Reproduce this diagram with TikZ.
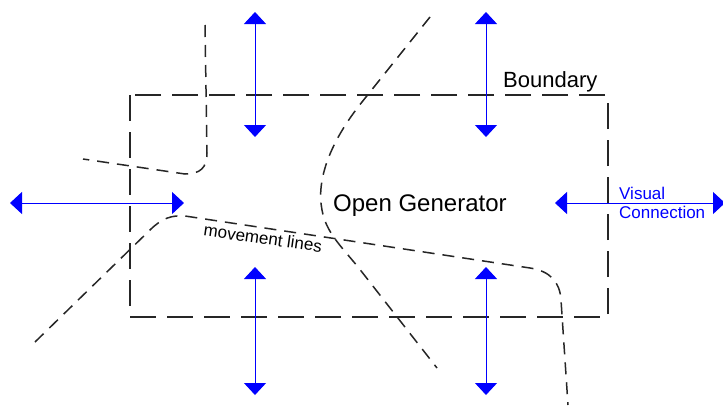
\documentclass[tikz,border=0pt]{standalone}
\usepackage{fontspec}
\setmainfont{Liberation Sans}
\usetikzlibrary{arrows.meta}
\definecolor{vblue}{RGB}{0,0,255}
\tikzset{
  boundaryline/.style={line width=2.2pt, dash pattern=on 26pt off 11pt, black!85},
  moveline/.style={line width=1.5pt, dash pattern=on 12pt off 8pt, black!85, line cap=butt},
  twoway/.style={vblue, line width=0.9pt,
    {Triangle[width=22pt,length=12pt]}-{Triangle[width=22pt,length=12pt]}},
  bigtext/.style={font=\fontsize{24}{28}\selectfont, inner sep=0pt},
  midtext/.style={font=\fontsize{22}{26}\selectfont, inner sep=0pt},
  smalltext/.style={font=\fontsize{17}{19}\selectfont, inner sep=0pt},
}
\begin{document}
\begin{tikzpicture}[x=1pt,y=-1pt]
\useasboundingbox[fill=white] (0,0) rectangle (723,405);

% boundary of the open generator
\draw[boundaryline] (130,95) rectangle (608,317);

% movement lines
\draw[moveline] (205,25) -- (207,153)
  .. controls (207,168) and (200,174) .. (185,174) -- (83,159);
\draw[moveline] (430,17) -- (362,102)
  .. controls (330,142) and (316,180) .. (322,210)
  .. controls (326,232) and (340,245) .. (358,267) -- (437,368);
\draw[moveline] (35,342) -- (150,230)
  .. controls (162,218) and (172,215) .. (185,216) -- (530,268)
  .. controls (550,271) and (560,282) .. (561,300) -- (568,405);

% labels
\node[bigtext, anchor=base west] (gen) at (333,211) {Open Generator};
\node[midtext, anchor=base west] (bnd) at (503,87) {Boundary};
\node[smalltext, rotate=-8] (mov) at (263,238) {movement lines};
\node[smalltext, text=vblue, anchor=base west, align=left] (vis) at (619,218) {Visual\\Connection};

% visual connection arrows
\coordinate (t1a) at (255,12);  \coordinate (t1b) at (255,137);
\coordinate (t2a) at (486,12);  \coordinate (t2b) at (486,137);
\coordinate (b1a) at (255,267); \coordinate (b1b) at (255,395);
\coordinate (b2a) at (486,267); \coordinate (b2b) at (486,395);
\coordinate (l1a) at (10,203);  \coordinate (l1b) at (184,203);
\coordinate (r1a) at (555,203); \coordinate (r1b) at (725,203);
\draw[twoway] (t1a) -- (t1b);
\draw[twoway] (t2a) -- (t2b);
\draw[twoway] (b1a) -- (b1b);
\draw[twoway] (b2a) -- (b2b);
\draw[twoway] (l1a) -- (l1b);
\draw[twoway] (r1a) -- (r1b);
\end{tikzpicture}
\end{document}
